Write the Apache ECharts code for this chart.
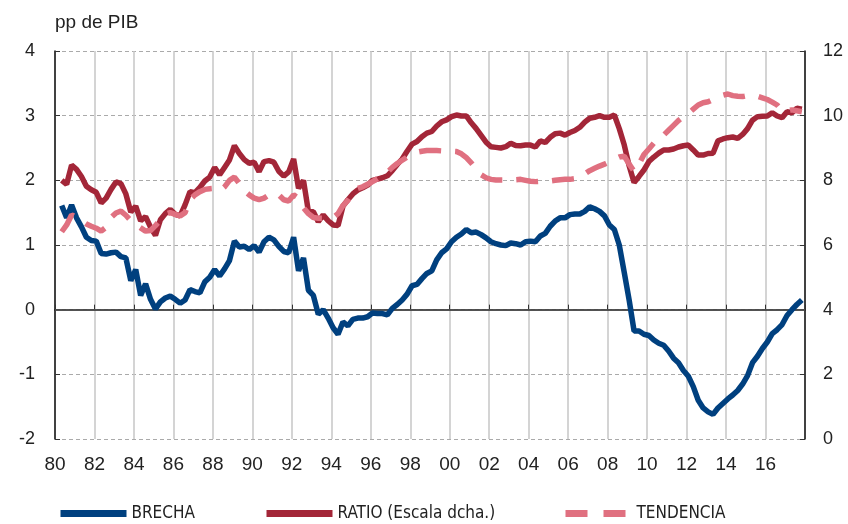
<!DOCTYPE html>
<html>
<head>
<meta charset="utf-8">
<script src="https://cdn.jsdelivr.net/npm/echarts@6/dist/echarts.min.js"></script>
<style>
  html, body { margin: 0; padding: 0; background: #fff; }
  #chart { width: 848px; height: 524px; }
</style>
</head>
<body>
<div id="chart"></div>
<script>
// trimestres de 1980 a 2017, eje izquierdo BRECHA, eje derecho RATIO / TENDENCIA
const brecha = [
  1.61, 1.42, 1.62, 1.42, 1.28, 1.12, 1.07, 1.06, 0.87, 0.86,
  0.88, 0.89, 0.82, 0.80, 0.45, 0.62, 0.22, 0.40, 0.16, 0.01,
  0.12, 0.18, 0.21, 0.16, 0.10, 0.15, 0.31, 0.28, 0.26, 0.43,
  0.50, 0.62, 0.52, 0.63, 0.76, 1.06, 0.97, 0.98, 0.93, 0.99,
  0.89, 1.05, 1.12, 1.08, 0.98, 0.90, 0.88, 1.12, 0.60, 0.80,
  0.30, 0.22, -0.07, 0.00, -0.13, -0.28, -0.38, -0.19, -0.25, -0.15,
  -0.13, -0.13, -0.11, -0.05, -0.06, -0.06, -0.08, 0.02, 0.08, 0.15,
  0.24, 0.37, 0.39, 0.48, 0.56, 0.60, 0.77, 0.88, 0.94, 1.05,
  1.12, 1.17, 1.24, 1.19, 1.20, 1.16, 1.11, 1.05, 1.02, 1.00,
  0.99, 1.03, 1.02, 1.00, 1.05, 1.06, 1.05, 1.14, 1.18, 1.29,
  1.37, 1.42, 1.42, 1.47, 1.48, 1.48, 1.52, 1.59, 1.56, 1.52,
  1.45, 1.31, 1.24, 1.00, 0.58, 0.15, -0.33, -0.33, -0.38, -0.40,
  -0.47, -0.52, -0.55, -0.64, -0.75, -0.82, -0.94, -1.03, -1.19, -1.40,
  -1.52, -1.58, -1.62, -1.52, -1.45, -1.38, -1.32, -1.25, -1.15, -1.02,
  -0.82, -0.72, -0.60, -0.50, -0.37, -0.31, -0.23, -0.09, 0.00, 0.08,
  0.15
];
const ratio = [
  8.00, 7.88, 8.47, 8.34, 8.12, 7.82, 7.71, 7.63, 7.30, 7.45,
  7.72, 7.95, 7.90, 7.58, 7.02, 7.20, 6.75, 6.88, 6.55, 6.30,
  6.78, 6.97, 7.10, 6.95, 6.90, 7.24, 7.65, 7.62, 7.78, 7.98,
  8.10, 8.40, 8.17, 8.40, 8.63, 9.07, 8.83, 8.64, 8.53, 8.56,
  8.27, 8.58, 8.61, 8.56, 8.28, 8.13, 8.26, 8.66, 7.75, 8.00,
  7.03, 7.03, 6.72, 6.93, 6.75, 6.62, 6.60, 7.20, 7.40, 7.58,
  7.70, 7.77, 7.85, 8.00, 8.04, 8.08, 8.14, 8.30, 8.49, 8.66,
  8.90, 9.12, 9.20, 9.35, 9.46, 9.51, 9.68, 9.81, 9.87, 9.97,
  10.02, 9.99, 9.99, 9.78, 9.60, 9.39, 9.18, 9.04, 9.02, 9.00,
  9.04, 9.15, 9.08, 9.07, 9.09, 9.09, 9.03, 9.22, 9.17, 9.33,
  9.44, 9.46, 9.40, 9.48, 9.54, 9.64, 9.80, 9.92, 9.95, 10.00,
  9.95, 9.95, 10.02, 9.60, 9.10, 8.45, 7.93, 8.12, 8.32, 8.58,
  8.72, 8.84, 8.94, 8.94, 8.97, 9.03, 9.07, 9.09, 8.94, 8.78,
  8.78, 8.83, 8.84, 9.22, 9.28, 9.32, 9.34, 9.30, 9.42, 9.60,
  9.86, 9.97, 9.98, 9.99, 10.09, 9.99, 9.94, 10.12, 10.09, 10.23,
  10.20
];
const tendencia = [
  6.41, 6.62, 6.93, 6.85, 6.75, 6.65, 6.58, 6.52, 6.43, 6.55,
  6.85, 6.99, 7.05, 6.92, 6.75, 6.63, 6.53, 6.43, 6.45, 6.60,
  6.77, 6.95, 7.00, 6.95, 6.90, 7.00, 7.40, 7.55, 7.65, 7.72,
  7.74, 7.75, 7.67, 7.80, 8.00, 8.10, 7.90, 7.68, 7.55, 7.45,
  7.40, 7.45, 7.55, 7.60, 7.55, 7.40, 7.36, 7.55, 7.45, 7.15,
  6.97, 6.85, 6.83, 6.83, 6.83, 6.85, 6.97, 7.22, 7.38, 7.63,
  7.75, 7.80, 7.88, 7.96, 8.05, 8.15, 8.25, 8.40, 8.52, 8.62,
  8.72, 8.80, 8.87, 8.90, 8.92, 8.92, 8.92, 8.91, 8.90, 8.90,
  8.89, 8.82, 8.70, 8.54, 8.35, 8.17, 8.08, 8.03, 8.01, 8.01,
  8.01, 8.02, 8.02, 8.03, 8.00, 7.97, 7.96, 7.97, 7.97, 7.98,
  8.00, 8.02, 8.03, 8.03, 8.05, 8.12, 8.20, 8.30, 8.37, 8.44,
  8.50, 8.57, 8.65, 8.72, 8.75, 8.50, 8.28, 8.50, 8.80, 8.97,
  9.15, 9.30, 9.40, 9.55, 9.70, 9.85, 9.97, 10.07, 10.20, 10.33,
  10.40, 10.43, 10.50, 10.56, 10.63, 10.67, 10.62, 10.60, 10.59, 10.62,
  10.63, 10.60, 10.55, 10.50, 10.42, 10.33, 10.15, 10.15, 10.18, 10.15,
  10.12
];
// fecha de cada trimestre en años decimales
const fechas = brecha.map((_, i) => 1980.34 + i * 0.25);

const AZUL = '#00407f';
const GRANATE = '#a32638';
const ROSA = '#e07080';
const fuente = "'Liberation Sans', Arial, sans-serif";
const fuenteEstrecha = "'Liberation Sans Narrow', 'Arial Narrow', 'DejaVu Sans Condensed', sans-serif";

const pares = (vals) => vals.map((v, i) => [fechas[i], v]);

const leyenda = (nombre, left, dash) => ({
  data: [nombre],
  left: left,
  top: 505,
  padding: 0,
  itemWidth: 66,
  itemHeight: 14,
  selectedMode: false,
  textStyle: { fontFamily: fuenteEstrecha, fontSize: 17, color: '#222' },
  itemStyle: { opacity: 0 },
  lineStyle: { width: 7, type: dash || 'solid', cap: 'butt' }
});

const chart = echarts.init(document.getElementById('chart'), null, { renderer: 'canvas' });
chart.setOption({
  animation: false,
  backgroundColor: '#fff',
  title: {
    text: 'pp de PIB',
    left: 50,
    top: 8,
    textStyle: { fontFamily: fuente, fontSize: 19, fontWeight: 'normal', color: '#222' }
  },
  legend: [
    leyenda('BRECHA', 57),
    leyenda('RATIO (Escala dcha.)', 263),
    leyenda('TENDENCIA', 562, [22, 16])
  ],
  grid: { left: 55, right: 43, top: 51, bottom: 85, containLabel: false },
  xAxis: {
    type: 'value',
    min: 1980,
    max: 2018,
    interval: 2,
    axisLine: { lineStyle: { color: '#111', width: 1.5 } },
    axisTick: { show: true, inside: true, length: 5, lineStyle: { color: '#333' } },
    axisLabel: {
      fontFamily: fuente,
      fontSize: 19,
      color: '#222',
      margin: 16,
      formatter: (v) => (v >= 2018 ? '' : String(v).slice(2))
    },
    splitLine: { show: true, lineStyle: { color: '#c6c6c6', width: 1.5 } }
  },
  yAxis: [
    {
      type: 'value',
      min: -2,
      max: 4,
      interval: 1,
      axisLine: { show: true, lineStyle: { color: '#111', width: 1.5 } },
      axisTick: { show: true, inside: true, length: 5, lineStyle: { color: '#333' } },
      axisLabel: { fontFamily: fuente, fontSize: 18, color: '#222', margin: 20 },
      splitLine: { show: true, lineStyle: { color: '#aaa', width: 1, type: [4, 3] } }
    },
    {
      type: 'value',
      min: 0,
      max: 12,
      interval: 2,
      position: 'right',
      axisLine: { show: true, lineStyle: { color: '#111', width: 1.5 } },
      axisTick: { show: true, inside: true, length: 5, lineStyle: { color: '#333' } },
      axisLabel: { fontFamily: fuente, fontSize: 18, color: '#222', margin: 18 },
      splitLine: { show: false }
    }
  ],
  series: [
    {
      name: 'BRECHA',
      type: 'line',
      yAxisIndex: 0,
      data: pares(brecha),
      symbol: 'none',
      z: 6,
      lineStyle: { color: AZUL, width: 5.5 },
      itemStyle: { color: AZUL },
      markLine: {
        silent: true,
        symbol: ['none', 'none'],
        label: { show: false },
        lineStyle: { color: '#555', width: 1.5, type: 'solid' },
        data: [{ yAxis: 0 }]
      }
    },
    {
      name: 'RATIO (Escala dcha.)',
      type: 'line',
      yAxisIndex: 1,
      data: pares(ratio),
      symbol: 'none',
      z: 6,
      lineStyle: { color: GRANATE, width: 5.5 },
      itemStyle: { color: GRANATE }
    },
    {
      name: 'TENDENCIA',
      type: 'line',
      yAxisIndex: 1,
      data: pares(tendencia),
      symbol: 'none',
      z: 6,
      lineStyle: { color: ROSA, width: 5.5, type: [22, 14] },
      itemStyle: { color: ROSA }
    }
  ]
});
</script>
</body>
</html>
